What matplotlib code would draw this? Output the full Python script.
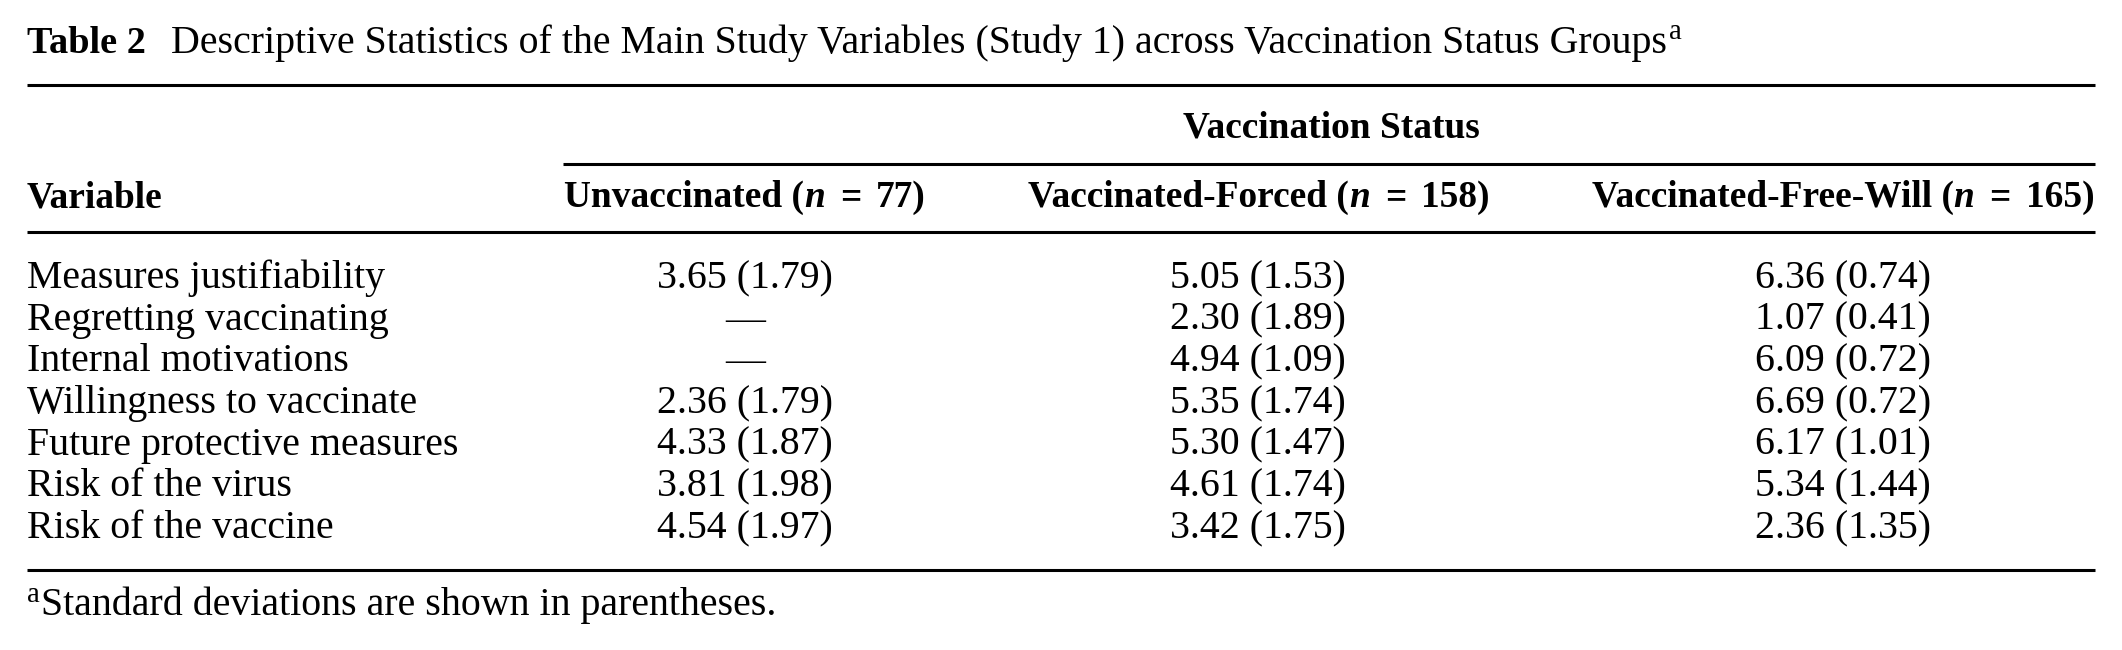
import matplotlib
matplotlib.use("Agg")
import matplotlib.pyplot as plt
from matplotlib.font_manager import FontProperties

# ---------------- data ----------------
variables = [
    "Measures justifiability",
    "Regretting vaccinating",
    "Internal motivations",
    "Willingness to vaccinate",
    "Future protective measures",
    "Risk of the virus",
    "Risk of the vaccine",
]
group_names = ["Unvaccinated", "Vaccinated-Forced", "Vaccinated-Free-Will"]
group_n = [77, 158, 165]
unvacc_mean = [3.65, None, None, 2.36, 4.33, 3.81, 4.54]
unvacc_sd = [1.79, None, None, 1.79, 1.87, 1.98, 1.97]
forced_mean = [5.05, 2.30, 4.94, 5.35, 5.30, 4.61, 3.42]
forced_sd = [1.53, 1.89, 1.09, 1.74, 1.47, 1.74, 1.75]
free_mean = [6.36, 1.07, 6.09, 6.69, 6.17, 5.34, 2.36]
free_sd = [0.74, 0.41, 0.72, 0.72, 1.01, 1.44, 1.35]
title_bold = "Table 2"
title_text = ("Descriptive Statistics of the Main Study Variables (Study 1) "
              "across Vaccination Status Groups")
spanner = "Vaccination Status"
footnote = "Standard deviations are shown in parentheses."

# ---------------- layout ----------------
W, H = 2122, 650
fig = plt.figure(figsize=(W / 100, H / 100), dpi=100)
ax = fig.add_axes([0, 0, 1, 1])
ax.set_xlim(0, W)
ax.set_ylim(H, 0)
ax.axis("off")
renderer = fig.canvas.get_renderer()

FAM = "Liberation Serif"
BODY = 28.7
HEAD = 26.9
fp_reg = FontProperties(family=FAM, size=BODY)
fp_bold = FontProperties(family=FAM, size=HEAD, weight="bold")
fp_bi = FontProperties(family=FAM, size=HEAD, weight="bold", style="italic")
fp_tbold = FontProperties(family=FAM, size=27.6, weight="bold")
fp_sup = FontProperties(family=FAM, size=BODY * 0.72)

LEFT, RIGHT = 27, 2095
SUB_LEFT = 563
col_centers = [745, 1258, 1843]
head_centers = [745, 1259, 1843]
spanner_x = 1331

y_title = 53
y_top_rule = 85
y_spanner = 138
y_sub_rule = 164
y_header = 207
y_head_rule = 232
y_rows_start = 288
row_step = 41.7
y_bottom_rule = 569.5
y_foot = 615.5

LW = 2.2


def text_width(s, fp):
    t = ax.text(0, 0, s, fontproperties=fp)
    bb = t.get_window_extent(renderer=renderer)
    t.remove()
    return bb.width


def draw_pieces(pieces, x, y, align="left"):
    """pieces: list of (string, fontprops, gap_after_px, dy)"""
    widths = [text_width(s, fp) for s, fp, g, dy in pieces]
    total = sum(widths) + sum(g for s, fp, g, dy in pieces[:-1])
    x0 = x - total / 2 if align == "center" else x
    cx = x0
    for (s, fp, g, dy), w in zip(pieces, widths):
        ax.text(cx, y - dy, s, fontproperties=fp, ha="left", va="baseline",
                color="black")
        cx += w + g
    return total


# title
draw_pieces([(title_bold, fp_tbold, 25, 0),
             (title_text, fp_reg, 2, 0),
             ("a", fp_sup, 0, 14)], LEFT, y_title)

# rules
for x0, y0 in [(LEFT, y_top_rule), (SUB_LEFT, y_sub_rule),
               (LEFT, y_head_rule), (LEFT, y_bottom_rule)]:
    ax.plot([x0, RIGHT], [y0, y0], color="black", lw=LW,
            solid_capstyle="butt")

# spanner
ax.text(spanner_x, y_spanner, spanner, fontproperties=fp_bold, ha="center",
        va="baseline")

# header row
ax.text(LEFT, y_header, "Variable", fontproperties=fp_bold, ha="left",
        va="baseline")
for name, n, cx in zip(group_names, group_n, head_centers):
    draw_pieces([(name + " (", fp_bold, 0, 0),
                 ("n", fp_bi, 15, 0),
                 ("=", fp_bold, 15, 0),
                 (f"{n})", fp_bold, 0, 0)], cx, y_header, align="center")

# body
cols = [(unvacc_mean, unvacc_sd), (forced_mean, forced_sd),
        (free_mean, free_sd)]
for i, var in enumerate(variables):
    y = y_rows_start + i * row_step
    ax.text(LEFT, y, var, fontproperties=fp_reg, ha="left", va="baseline")
    for (means, sds), cx in zip(cols, col_centers):
        m, s = means[i], sds[i]
        label = "\u2014" if m is None else f"{m:.2f} ({s:.2f})"
        ax.text(cx, y, label, fontproperties=fp_reg, ha="center",
                va="baseline", color="black")

# footnote
draw_pieces([("a", fp_sup, 1, 14), (footnote, fp_reg, 0, 0)], LEFT, y_foot)

fig.savefig("out.png", dpi=100, facecolor="white")
